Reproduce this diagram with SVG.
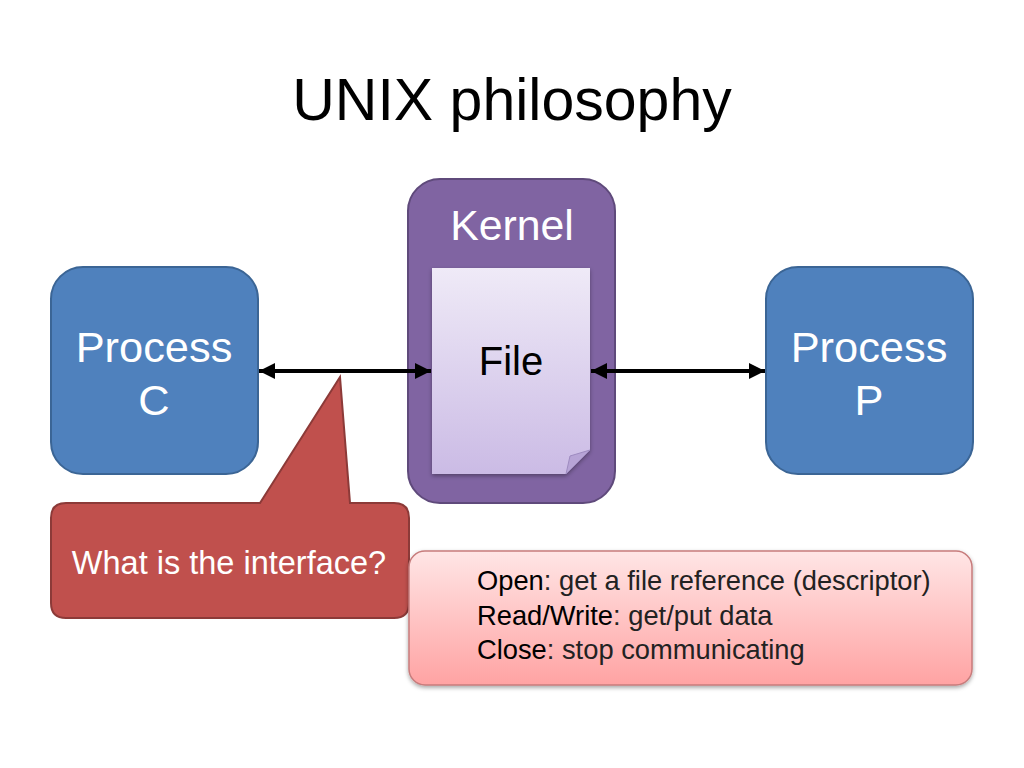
<svg xmlns="http://www.w3.org/2000/svg" width="1024" height="768" viewBox="0 0 1024 768">
<style>
text{font-family:"Liberation Sans",Arial,sans-serif}
.proc{fill:#4F81BD;stroke:#3B6595;stroke-width:2}
.wt{fill:#fff;text-anchor:middle}
.conn{stroke:#000;stroke-width:4;fill:none}
.lbl{font-size:27.3px;fill:#222}
.key{fill:#000}
</style>
<defs>
<marker id="ah" viewBox="0 0 10 10" refX="10" refY="5" markerWidth="4.2" markerHeight="4" orient="auto-start-reverse" markerUnits="strokeWidth">
<path d="M0,0 L10,5 L0,10 Z" fill="#000"/>
</marker>
<linearGradient id="fileg" x1="0" y1="0" x2="0" y2="1">
<stop offset="0" stop-color="#EFEAF7"/>
<stop offset="1" stop-color="#CBBBE5"/>
</linearGradient>
<linearGradient id="pinkg" x1="0" y1="0" x2="0" y2="1">
<stop offset="0" stop-color="#FFE6E6"/>
<stop offset="1" stop-color="#FFA3A3"/>
</linearGradient>
<filter id="sh" x="-10%" y="-10%" width="120%" height="130%">
<feDropShadow dx="0" dy="2" stdDeviation="2" flood-color="#000" flood-opacity="0.35"/>
</filter>
</defs>
<rect width="1024" height="768" fill="#fff"/>
<text x="512" y="120" font-size="59" text-anchor="middle" fill="#000">UNIX philosophy</text>

<g id="processC">
<rect class="proc" x="51" y="267" width="207" height="207" rx="32"/>
<text class="wt" x="154" y="362" font-size="43.4">Process</text>
<text class="wt" x="154" y="415" font-size="43.4">C</text>
</g>

<g id="processP">
<rect class="proc" x="766" y="267" width="207" height="207" rx="32"/>
<text class="wt" x="869" y="362" font-size="43.4">Process</text>
<text class="wt" x="869" y="415" font-size="43.4">P</text>
</g>

<g id="kernel">
<rect x="408" y="179" width="207" height="324" rx="32" fill="#8064A2" stroke="#5F4A7B" stroke-width="2"/>
<text class="wt" x="512" y="240" font-size="42.8">Kernel</text>
</g>

<g id="file">
<path d="M432,268 H590 V450 L566,474 H432 Z" fill="url(#fileg)" filter="url(#sh)"/>
<path d="M566,474 L570,456 L590,450 Z" fill="#B7A4D6" stroke="#9E8BC0" stroke-width="1"/>
<text x="511" y="375" font-size="40" text-anchor="middle" fill="#000">File</text>
</g>

<g id="connectors">
<line class="conn" x1="259" y1="371" x2="431" y2="371" marker-start="url(#ah)" marker-end="url(#ah)"/>
<line class="conn" x1="591" y1="371" x2="765" y2="371" marker-start="url(#ah)" marker-end="url(#ah)"/>
</g>

<g id="callout">
<path d="M66,503 H260 L340,377 L350,503 H394 Q409,503 409,518 V603 Q409,618 394,618 H66 Q51,618 51,603 V518 Q51,503 66,503 Z" fill="#C0504D" stroke="#8C3A38" stroke-width="2"/>
<text class="wt" x="229" y="574" font-size="32.5">What is the interface?</text>
</g>

<g id="interface">
<rect x="409" y="551" width="563" height="134" rx="16" fill="url(#pinkg)" stroke="#C77C7C" stroke-width="1.5" filter="url(#sh)"/>
<text class="lbl" x="477" y="590"><tspan class="key">Open</tspan>: get a file reference (descriptor)</text>
<text class="lbl" x="477" y="625"><tspan class="key">Read/Write</tspan>: get/put data</text>
<text class="lbl" x="477" y="659"><tspan class="key">Close</tspan>: stop communicating</text>
</g>
</svg>
